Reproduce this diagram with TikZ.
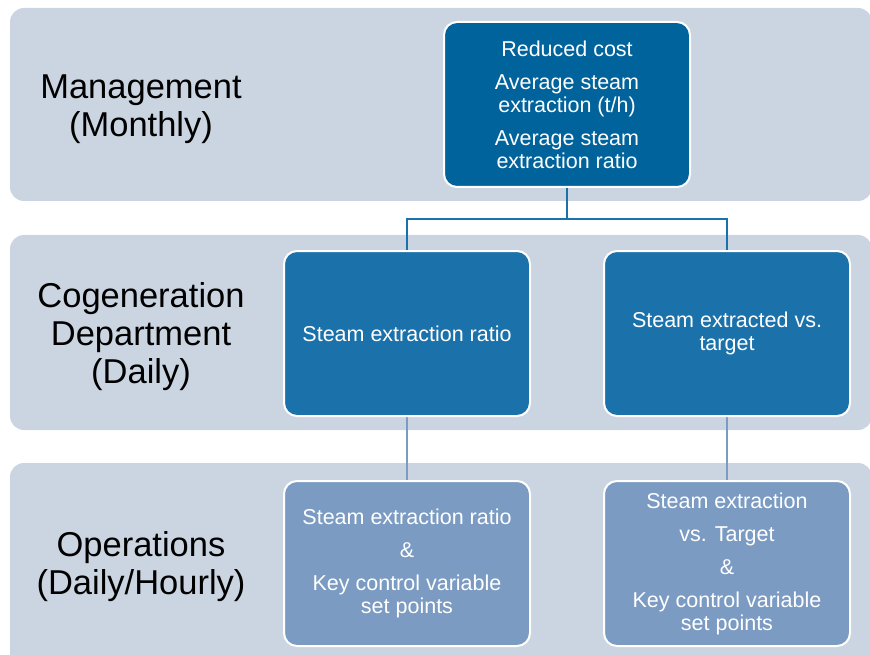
\documentclass[tikz,border=0pt]{standalone}
\usepackage{fontspec}
\setmainfont{Liberation Sans}
\definecolor{bandc}{RGB}{203,213,225}
\definecolor{topc}{RGB}{0,99,155}
\definecolor{midc}{RGB}{27,114,171}
\definecolor{lowc}{RGB}{123,155,194}
\pgfdeclarelayer{bandlayer}
\pgfdeclarelayer{linklayer}
\pgfsetlayers{bandlayer,linklayer,main}
\begin{document}
\begin{tikzpicture}[x=1pt,y=-1pt,
  band/.style={fill=bandc,rounded corners=14pt},
  kpibox/.style={draw=white,line width=2pt,rounded corners=13pt,minimum width=246pt,minimum height=165pt,inner sep=0pt,align=center,text=white,font=\fontsize{21.5}{23}\selectfont},
  lvl/.style={align=center,font=\fontsize{34.5}{38}\selectfont,text=black},
  conn/.style={line width=1.8pt,draw=midc},
  connlow/.style={line width=1.8pt,draw=lowc}]
\useasboundingbox (0,0) rectangle (870,655);
% bands
\begin{pgfonlayer}{bandlayer}
\fill[band] (10,8) rectangle (872,201);
\fill[band] (10,235) rectangle (872,430);
\fill[band] (10,463) rectangle (872,680);
\end{pgfonlayer}
% level labels
\node[lvl] (l1) at (141,109) {Management\\(Monthly)};
\node[lvl] (l2) at (141,337) {Cogeneration\\Department\\(Daily)};
\node[lvl] (l3) at (141,566.5) {Operations\\(Daily/Hourly)};
% boxes
\node[kpibox,fill=topc] (top) at (567,104.5) {Reduced cost\\[10pt]Average steam\\extraction (t/h)\\[10pt]Average steam\\extraction ratio};
\node[kpibox,fill=midc] (midL) at (407,333.5) {Steam extraction ratio};
\node[kpibox,fill=midc] (midR) at (727,333.5) {Steam extracted vs.\\target};
\node[kpibox,fill=lowc] (botL) at (407,563.5) {Steam extraction ratio\\[10pt]\&\\[10pt]Key control variable\\set points};
\node[kpibox,fill=lowc] (botR) at (727,563.5) {Steam extraction\\[10pt]vs. Target\\[10pt]\&\\[10pt]Key control variable\\set points};
% connectors
\coordinate (bus) at (567,219);
\begin{pgfonlayer}{linklayer}
\draw[conn] (top.south) -- (bus);
\draw[conn] (bus) -| (midL.north);
\draw[conn] (bus) -| (midR.north);
\draw[connlow] (midL.south) -- (botL.north);
\draw[connlow] (midR.south) -- (botR.north);
\end{pgfonlayer}
\end{tikzpicture}
\end{document}
